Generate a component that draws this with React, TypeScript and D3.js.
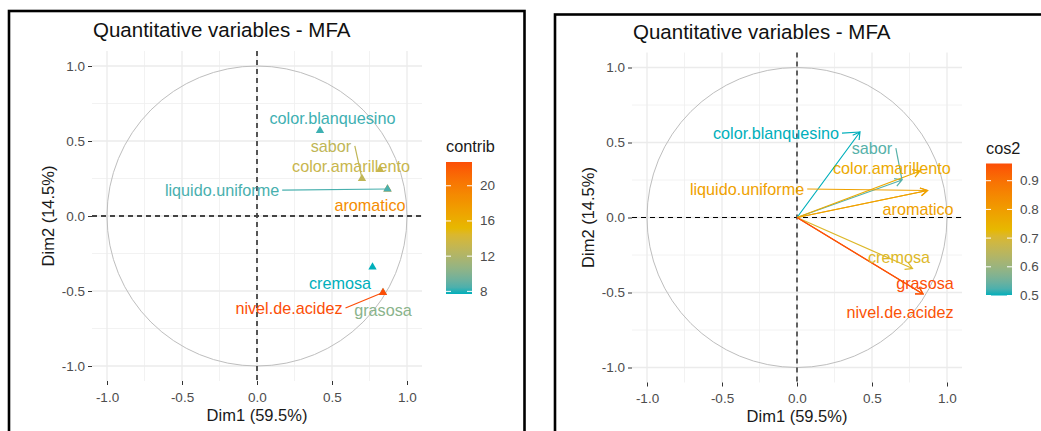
import React, { useEffect, useRef } from 'react';
import * as d3 from 'd3';

// variables of the MFA, in drawing order
const varNames = [
  'color.blanquesino',
  'sabor',
  'color.amarillento',
  'aromatico',
  'liquido.uniforme',
  'cremosa',
  'grasosa',
  'nivel.de.acidez',
];
const dim1 = [0.42, 0.7, 0.82, 0.87, 0.87, 0.77, 0.84, 0.84];
const dim2 = [0.57, 0.25, 0.31, 0.18, 0.18, -0.34, -0.51, -0.51];
const contrib = [8.2, 12.9, 13.3, 18.8, 8.4, 7.7, 10.3, 22.7];
const cos2 = [0.5, 0.53, 0.77, 0.79, 0.79, 0.71, 0.96, 0.95];

const axisTicks = [-1, -0.5, 0, 0.5, 1];
const minorTicks = [-0.75, -0.25, 0.25, 0.75];
const contribTicks = [8, 12, 16, 20];
const cos2Ticks = [0.5, 0.6, 0.7, 0.8, 0.9];

// where the repelled labels ended up, in data units
const labelXContrib = [0.503, 0.493, 0.627, 0.753, -0.233, 0.553, 0.84, 0.213];
const labelYContrib = [0.653, 0.467, 0.333, 0.073, 0.173, -0.447, -0.627, -0.613];
const labelXCos2 = [-0.14, 0.5, 0.633, 0.807, -0.333, 0.68, 0.853, 0.687];
const labelYCos2 = [0.563, 0.463, 0.33, 0.057, 0.19, -0.263, -0.437, -0.63];

const FONT = '"Liberation Sans", Arial, Helvetica, sans-serif';
const gradCols = ['#00AFBB', '#E7B800', '#FC4E07'];

type PanelProps = { ox: number; oy: number; mode: 'contrib' | 'cos2' };

function VarPanel({ ox, oy, mode }: PanelProps) {
  const ref = useRef<SVGGElement>(null);

  useEffect(() => {
    const g = d3.select(ref.current);
    g.selectAll('*').remove();

    const unit = 150;
    const x = d3.scaleLinear().domain([-1.1, 1.1]).range([ox - 1.1 * unit, ox + 1.1 * unit]);
    const y = d3.scaleLinear().domain([-1.1, 1.1]).range([oy + 1.1 * unit, oy - 1.1 * unit]);
    const [left, right] = x.range();
    const [bottom, top] = y.range();

    const values = mode === 'contrib' ? contrib : cos2;
    const ext = d3.extent(values) as [number, number];
    const color = d3
      .scaleLinear<string>()
      .domain([ext[0], (ext[0] + ext[1]) / 2, ext[1]])
      .range(gradCols)
      .interpolate(d3.interpolateLab);

    // grid
    const grid = g.append('g');
    grid.selectAll('.minx').data(minorTicks).enter().append('line')
      .attr('x1', d => x(d)).attr('x2', d => x(d)).attr('y1', top).attr('y2', bottom)
      .attr('stroke', '#EFEFEF').attr('stroke-width', 0.8);
    grid.selectAll('.miny').data(minorTicks).enter().append('line')
      .attr('y1', d => y(d)).attr('y2', d => y(d)).attr('x1', left).attr('x2', right)
      .attr('stroke', '#EFEFEF').attr('stroke-width', 0.8);
    grid.selectAll('.majx').data(axisTicks).enter().append('line')
      .attr('x1', d => x(d)).attr('x2', d => x(d)).attr('y1', top).attr('y2', bottom)
      .attr('stroke', '#EBEBEB').attr('stroke-width', 1.3);
    grid.selectAll('.majy').data(axisTicks).enter().append('line')
      .attr('y1', d => y(d)).attr('y2', d => y(d)).attr('x1', left).attr('x2', right)
      .attr('stroke', '#EBEBEB').attr('stroke-width', 1.3);

    // correlation circle
    g.append('circle')
      .attr('cx', x(0)).attr('cy', y(0)).attr('r', x(1) - x(0))
      .attr('fill', 'none').attr('stroke', '#BEBEBE').attr('stroke-width', 1);

    // dashed axes
    const dashCol = mode === 'contrib' ? '#444' : '#000';
    const dashW = mode === 'contrib' ? 1.8 : 1.2;
    g.append('line').attr('x1', left).attr('x2', right).attr('y1', y(0)).attr('y2', y(0))
      .attr('stroke', dashCol).attr('stroke-width', dashW).attr('stroke-dasharray', '5,4');
    g.append('line').attr('x1', x(0)).attr('x2', x(0)).attr('y1', top).attr('y2', bottom)
      .attr('stroke', dashCol).attr('stroke-width', dashW).attr('stroke-dasharray', '5,4');

    // axes
    const fmt = (d: d3.NumberValue) => (+d).toFixed(1);
    const xAxis = g.append('g').attr('transform', `translate(0,${bottom})`)
      .call(d3.axisBottom(x).tickValues(axisTicks).tickSizeInner(4).tickSizeOuter(0).tickPadding(7).tickFormat(fmt));
    const yAxis = g.append('g').attr('transform', `translate(${left},0)`)
      .call(d3.axisLeft(y).tickValues(axisTicks).tickSizeInner(4).tickSizeOuter(0).tickPadding(3).tickFormat(fmt));
    [xAxis, yAxis].forEach(a => {
      a.select('.domain').remove();
      a.selectAll('line').attr('stroke', '#333').attr('stroke-width', 1);
      a.selectAll('text').attr('fill', '#4D4D4D').attr('font-size', 13.5).attr('font-family', FONT);
    });

    // title and axis titles
    g.append('text').attr('x', left + 1).attr('y', top - 14)
      .attr('font-size', 20.5).attr('font-family', FONT).attr('fill', '#111')
      .text('Quantitative variables - MFA');
    g.append('text').attr('x', ox).attr('y', bottom + 39.5).attr('text-anchor', 'middle')
      .attr('font-size', 16.5).attr('font-family', FONT).attr('fill', '#1a1a1a')
      .text('Dim1 (59.5%)');
    g.append('text').attr('transform', `translate(${left - 44},${oy}) rotate(-90)`)
      .attr('text-anchor', 'middle').attr('dominant-baseline', 'central')
      .attr('font-size', 16.5).attr('font-family', FONT).attr('fill', '#1a1a1a')
      .text('Dim2 (14.5%)');

    const idx = d3.range(varNames.length);
    const marks = g.append('g');
    if (mode === 'cos2') {
      idx.forEach(i => {
        const x0 = x(0), y0 = y(0), x1 = x(dim1[i]), y1 = y(dim2[i]);
        const ang = Math.atan2(y1 - y0, x1 - x0);
        const len = 8;
        const a1 = ang + Math.PI - Math.PI / 6;
        const a2 = ang + Math.PI + Math.PI / 6;
        const p = d3.path();
        p.moveTo(x0, y0);
        p.lineTo(x1, y1);
        p.moveTo(x1 + len * Math.cos(a1), y1 + len * Math.sin(a1));
        p.lineTo(x1, y1);
        p.lineTo(x1 + len * Math.cos(a2), y1 + len * Math.sin(a2));
        marks.append('path').attr('d', p.toString()).attr('fill', 'none')
          .attr('stroke', color(values[i])).attr('stroke-width', 1.2)
          .attr('stroke-linejoin', 'miter');
      });
    } else {
      const tri = d3.symbol().type(d3.symbolTriangle).size(30);
      marks.selectAll('path').data(idx).enter().append('path')
        .attr('d', tri)
        .attr('transform', i => `translate(${x(dim1[i])},${y(dim2[i])})`)
        .attr('fill', i => color(values[i]));
    }

    // labels with repel segments (segment starts at the nearest edge midpoint)
    const lx = mode === 'contrib' ? labelXContrib : labelXCos2;
    const ly = mode === 'contrib' ? labelYContrib : labelYCos2;
    const segs = g.append('g');
    const labels = g.append('g');
    idx.forEach(i => {
      const t = labels.append('text')
        .attr('x', x(lx[i])).attr('y', y(ly[i]))
        .attr('text-anchor', 'middle').attr('dominant-baseline', 'central')
        .attr('font-size', 16.2).attr('font-family', FONT)
        .attr('fill', color(values[i]))
        .text(varNames[i]);
      const node = t.node() as SVGTextElement;
      const bb = node.getBBox();
      const pad = 3;
      const bx0 = bb.x - pad, bx1 = bb.x + bb.width + pad;
      const by0 = bb.y - pad, by1 = bb.y + bb.height + pad;
      const px = x(dim1[i]), py = y(dim2[i]);
      const dx = Math.max(bx0 - px, 0, px - bx1);
      const dy = Math.max(by0 - py, 0, py - by1);
      if (Math.hypot(dx, dy) > 9) {
        const mx = (bx0 + bx1) / 2, my = (by0 + by1) / 2;
        const cands: [number, number][] = [[bx0, my], [bx1, my], [mx, by0], [mx, by1]];
        const best = d3.least(cands, c => Math.hypot(c[0] - px, c[1] - py)) as [number, number];
        segs.append('line')
          .attr('x1', best[0]).attr('y1', best[1]).attr('x2', px).attr('y2', py)
          .attr('stroke', color(values[i])).attr('stroke-width', 1.2);
      }
    });

    // colour bar legend
    const barX = ox + 189, barW = 26, barTop = oy - 54, barBottom = oy + 78;
    const ly2 = d3.scaleLinear().domain(ext).range([barBottom, barTop]);
    const gid = `grad-${mode}`;
    const grad = g.append('defs').append('linearGradient').attr('id', gid)
      .attr('x1', 0).attr('x2', 0).attr('y1', 1).attr('y2', 0);
    d3.range(0, 1.0001, 0.05).forEach(f => {
      grad.append('stop').attr('offset', f).attr('stop-color', color(ext[0] + f * (ext[1] - ext[0])));
    });
    g.append('rect').attr('x', barX).attr('y', barTop).attr('width', barW).attr('height', barBottom - barTop)
      .attr('fill', `url(#${gid})`);
    const ticks = mode === 'contrib' ? contribTicks : cos2Ticks;
    ticks.forEach(v => {
      const ty = ly2(v);
      g.append('line').attr('x1', barX).attr('x2', barX + 5).attr('y1', ty).attr('y2', ty)
        .attr('stroke', 'white').attr('stroke-width', 1);
      g.append('line').attr('x1', barX + barW - 5).attr('x2', barX + barW).attr('y1', ty).attr('y2', ty)
        .attr('stroke', 'white').attr('stroke-width', 1);
      g.append('text').attr('x', barX + 34).attr('y', ty).attr('dominant-baseline', 'central')
        .attr('font-size', 13.5).attr('font-family', FONT).attr('fill', '#4D4D4D')
        .text(mode === 'contrib' ? String(v) : v.toFixed(1));
    });
    g.append('text').attr('x', barX).attr('y', barTop - 10)
      .attr('font-size', 16.3).attr('font-family', FONT).attr('fill', '#1a1a1a')
      .text(mode);
  }, [ox, oy, mode]);

  return <g ref={ref} />;
}

export default function App() {
  return (
    <svg
      width={1041}
      height={431}
      style={{ position: 'absolute', left: 0, top: 0, background: 'white' }}
    >
      <rect x={0} y={0} width={1041} height={431} fill="white" />
      <VarPanel ox={257} oy={216} mode="contrib" />
      <VarPanel ox={797} oy={217.5} mode="cos2" />
      <rect x={9} y={11} width={515.5} height={440} fill="none" stroke="#000" strokeWidth={2.6} />
      <rect x={555} y={14.5} width={500} height={440} fill="none" stroke="#000" strokeWidth={2.6} />
    </svg>
  );
}
